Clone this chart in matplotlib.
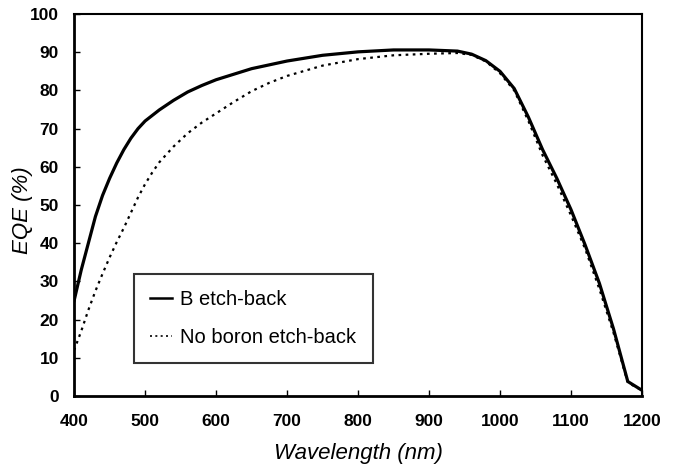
import matplotlib
matplotlib.use("Agg")
import matplotlib.pyplot as plt
from matplotlib.ticker import MultipleLocator

# Data
wl_b = [400, 410, 420, 430, 440, 450, 460, 470, 480, 490, 500, 520, 540, 560, 580, 600, 650, 700, 750,
        800, 850, 900, 940, 960, 980, 1000, 1020, 1040, 1060, 1080, 1100, 1120, 1140, 1160, 1180, 1200]
eqe_b = [25, 33, 40, 47, 52.5, 57, 61, 64.5, 67.5, 70, 72, 74.9, 77.4, 79.6, 81.3, 82.8, 85.7, 87.7, 89.2,
         90.1, 90.6, 90.6, 90.3, 89.5, 87.8, 85, 80.5, 73, 64.5, 57, 48.8, 39.5, 29.5, 17.5, 3.8, 1.5]

wl_n = [400, 410, 420, 430, 440, 450, 460, 470, 480, 490, 500, 510, 520, 540, 560, 580, 600, 625, 650, 675,
        700, 750, 800, 850, 900, 940, 960, 980, 1000, 1020, 1040, 1060, 1080, 1100, 1120, 1140, 1160, 1180, 1200]
eqe_n = [12, 17, 22.5, 27.5, 32, 36.3, 40.3, 44, 48, 52, 55.5, 58.5, 61.2, 65.3, 68.8, 71.6, 74, 77, 79.8, 82,
         83.8, 86.5, 88.2, 89.2, 89.6, 89.8, 89.3, 87.6, 84.5, 80, 72, 63, 55.5, 47.3, 38.5, 28, 16.5, 3.5, 1.5]

fig = plt.figure(figsize=(6.74, 4.68), dpi=100)
ax = fig.add_axes([0.110, 0.1538, 0.8425, 0.8162])

ax.plot(wl_b, eqe_b, color="black", lw=2.3, solid_joinstyle="round", label="B etch-back")
ax.plot(wl_n, eqe_n, color="black", lw=1.6, linestyle=(0, (1.2, 2.0)), label="No boron etch-back")

ax.set_xlim(400, 1200)
ax.set_ylim(0, 100)
ax.xaxis.set_major_locator(MultipleLocator(100))
ax.yaxis.set_major_locator(MultipleLocator(10))

ax.tick_params(direction="in", length=4, width=1)
ax.tick_params(axis="x", pad=13)
ax.tick_params(axis="y", pad=11)
for lbl in ax.get_xticklabels() + ax.get_yticklabels():
    lbl.set_fontfamily("Liberation Sans")
    lbl.set_fontweight("bold")
    lbl.set_fontsize(12.5)

for side in ["left", "bottom"]:
    ax.spines[side].set_linewidth(2.0)
for side in ["top", "right"]:
    ax.spines[side].set_linewidth(1.5)

ax.set_xlabel("Wavelength (nm)", fontfamily="Liberation Sans", fontstyle="italic", fontsize=16, labelpad=10)
ax.set_ylabel("EQE (%)", fontfamily="Liberation Sans", fontstyle="italic", fontsize=16)
ax.yaxis.set_label_coords(-0.072, 0.487)

leg = ax.legend(loc="lower left", bbox_to_anchor=(0.1056, 0.086), borderaxespad=0, frameon=True,
                fancybox=False, edgecolor="black", handlelength=1.1, handletextpad=0.4,
                borderpad=0.8, labelspacing=0.95, prop={"family": "Liberation Sans", "size": 14.5})
leg.get_frame().set_linewidth(1.5)
for h in leg.get_lines():
    h.set_linewidth(1.8)
leg.get_lines()[1].set_linewidth(1.2)

fig.savefig("out.png", dpi=100)
